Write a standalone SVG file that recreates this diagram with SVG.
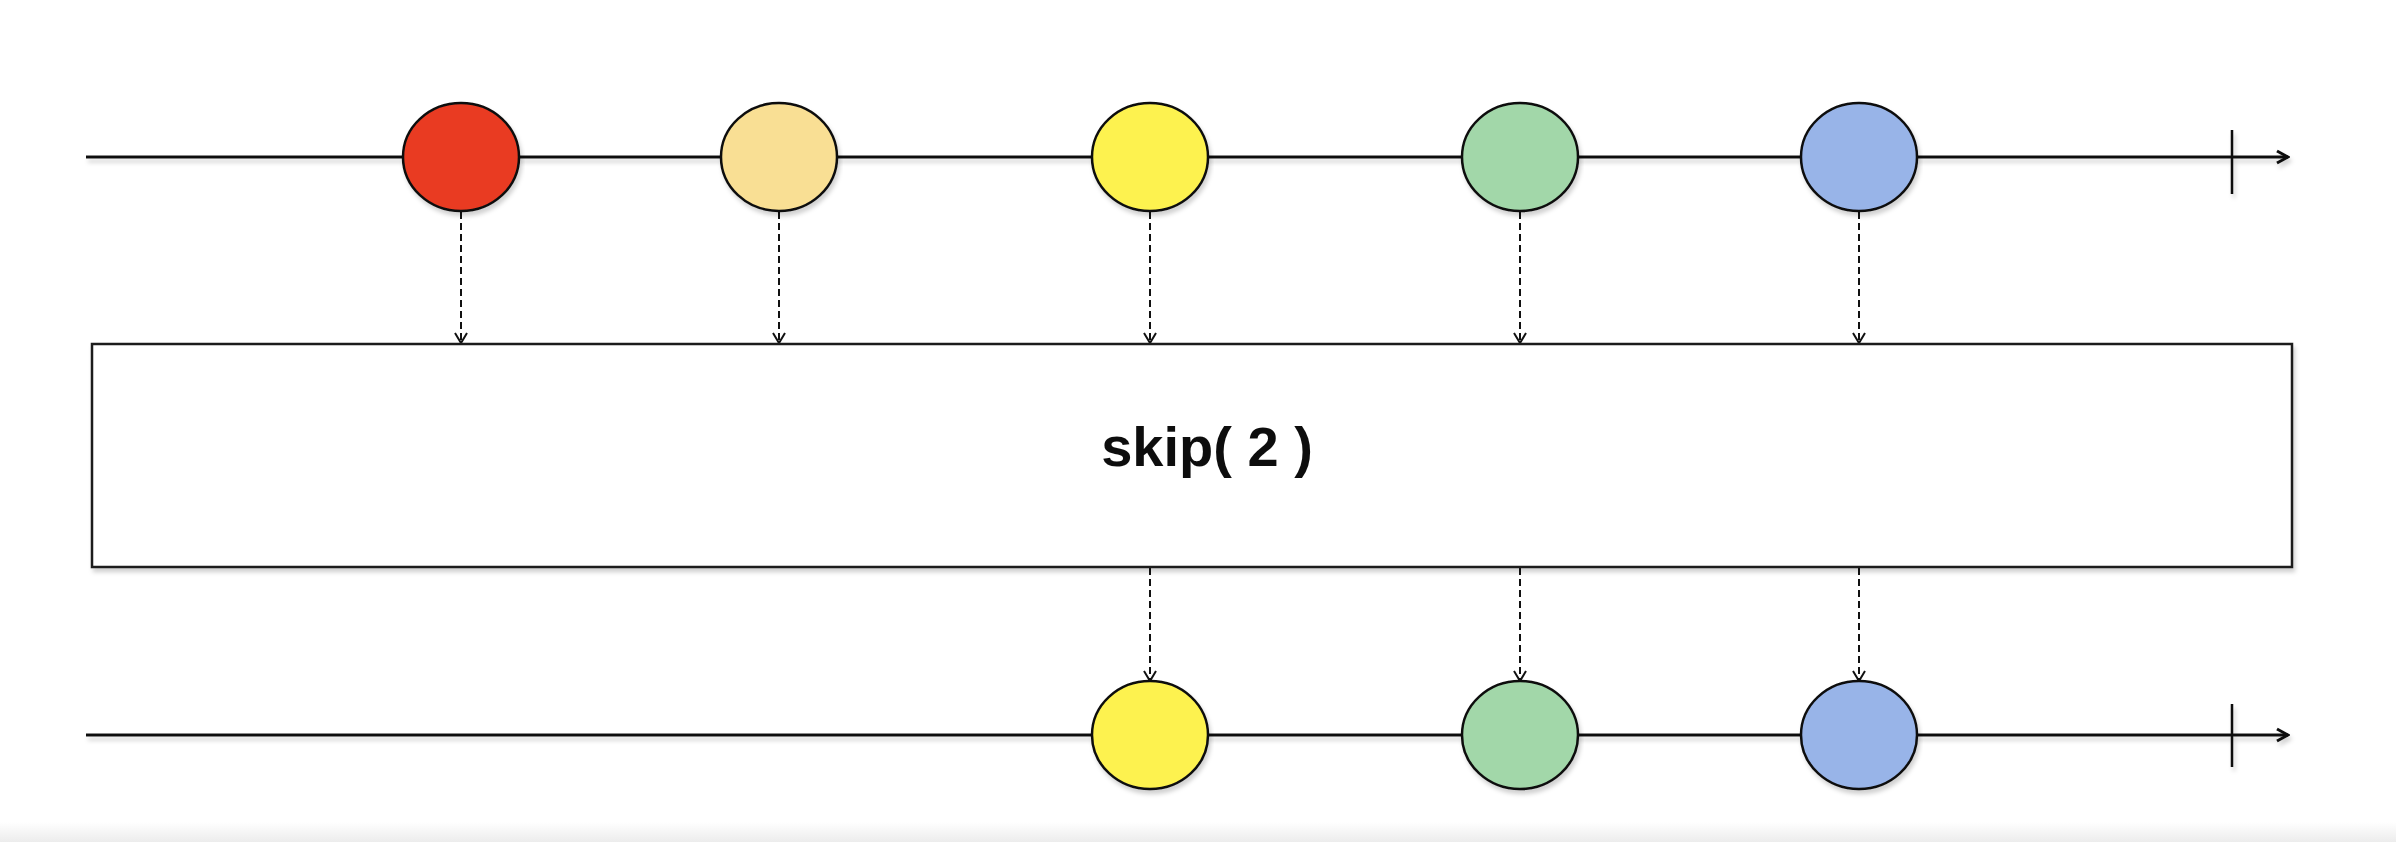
<svg xmlns="http://www.w3.org/2000/svg" width="2396" height="842" viewBox="0 0 2396 842">
<defs>
<filter id="sh" x="-5%" y="-20%" width="110%" height="160%"><feDropShadow dx="2" dy="4" stdDeviation="2" flood-color="#000" flood-opacity="0.18"/></filter>
<marker id="arr" markerWidth="14" markerHeight="14" refX="12" refY="7" orient="auto" markerUnits="userSpaceOnUse"><path d="M2,1 L12,7 L2,13" fill="none" stroke="#111" stroke-width="2"/></marker>
<marker id="tl" markerWidth="16" markerHeight="16" refX="14" refY="8" orient="auto" markerUnits="userSpaceOnUse"><path d="M3,2 L14,8 L3,14" fill="none" stroke="#111" stroke-width="3"/></marker>
<linearGradient id="bar" x1="0" y1="0" x2="0" y2="1"><stop offset="0" stop-color="#ffffff"/><stop offset="1" stop-color="#ececec"/></linearGradient>
</defs>
<style>
.tline{stroke:#111;stroke-width:3;fill:none}
.tick{stroke:#111;stroke-width:2.5}
.dash{stroke:#111;stroke-width:2;stroke-dasharray:7 4;fill:none}
.m{stroke:#111;stroke-width:2.5}
.box{fill:#fff;stroke:#1a1a1a;stroke-width:2.5}
.lbl{font-family:"Liberation Sans","DejaVu Sans",sans-serif;font-weight:bold;font-size:56px;fill:#111}
</style>
<rect width="2396" height="842" fill="#fff"/>
<rect x="0" y="822" width="2396" height="20" fill="url(#bar)"/>
<g id="timelines" filter="url(#sh)">
<line class="tline" x1="86" y1="157" x2="2288" y2="157" marker-end="url(#tl)"/>
<line class="tick" x1="2232" y1="130" x2="2232" y2="194"/>
<line class="tline" x1="86" y1="735" x2="2288" y2="735" marker-end="url(#tl)"/>
<line class="tick" x1="2232" y1="704" x2="2232" y2="767"/>
</g>
<g id="connectors">
<line class="dash" x1="461" y1="212" x2="461" y2="343" marker-end="url(#arr)"/>
<line class="dash" x1="779" y1="212" x2="779" y2="343" marker-end="url(#arr)"/>
<line class="dash" x1="1150" y1="212" x2="1150" y2="343" marker-end="url(#arr)"/>
<line class="dash" x1="1520" y1="212" x2="1520" y2="343" marker-end="url(#arr)"/>
<line class="dash" x1="1859" y1="212" x2="1859" y2="343" marker-end="url(#arr)"/>
<line class="dash" x1="1150" y1="568" x2="1150" y2="681" marker-end="url(#arr)"/>
<line class="dash" x1="1520" y1="568" x2="1520" y2="681" marker-end="url(#arr)"/>
<line class="dash" x1="1859" y1="568" x2="1859" y2="681" marker-end="url(#arr)"/>
</g>
<g id="in-red" filter="url(#sh)"><ellipse class="m" cx="461" cy="157" rx="58" ry="54" fill="#E93B22"/></g>
<g id="in-peach" filter="url(#sh)"><ellipse class="m" cx="779" cy="157" rx="58" ry="54" fill="#F9DF94"/></g>
<g id="in-yellow" filter="url(#sh)"><ellipse class="m" cx="1150" cy="157" rx="58" ry="54" fill="#FDF250"/></g>
<g id="in-green" filter="url(#sh)"><ellipse class="m" cx="1520" cy="157" rx="58" ry="54" fill="#A2D7A9"/></g>
<g id="in-blue" filter="url(#sh)"><ellipse class="m" cx="1859" cy="157" rx="58" ry="54" fill="#98B4E8"/></g>
<g id="operator" filter="url(#sh)">
<rect class="box" x="92" y="344" width="2200" height="223"/>
<text class="lbl" x="1207" y="466" text-anchor="middle">skip( 2 )</text>
</g>
<g id="out-yellow" filter="url(#sh)"><ellipse class="m" cx="1150" cy="735" rx="58" ry="54" fill="#FDF250"/></g>
<g id="out-green" filter="url(#sh)"><ellipse class="m" cx="1520" cy="735" rx="58" ry="54" fill="#A2D7A9"/></g>
<g id="out-blue" filter="url(#sh)"><ellipse class="m" cx="1859" cy="735" rx="58" ry="54" fill="#98B4E8"/></g>
</svg>
